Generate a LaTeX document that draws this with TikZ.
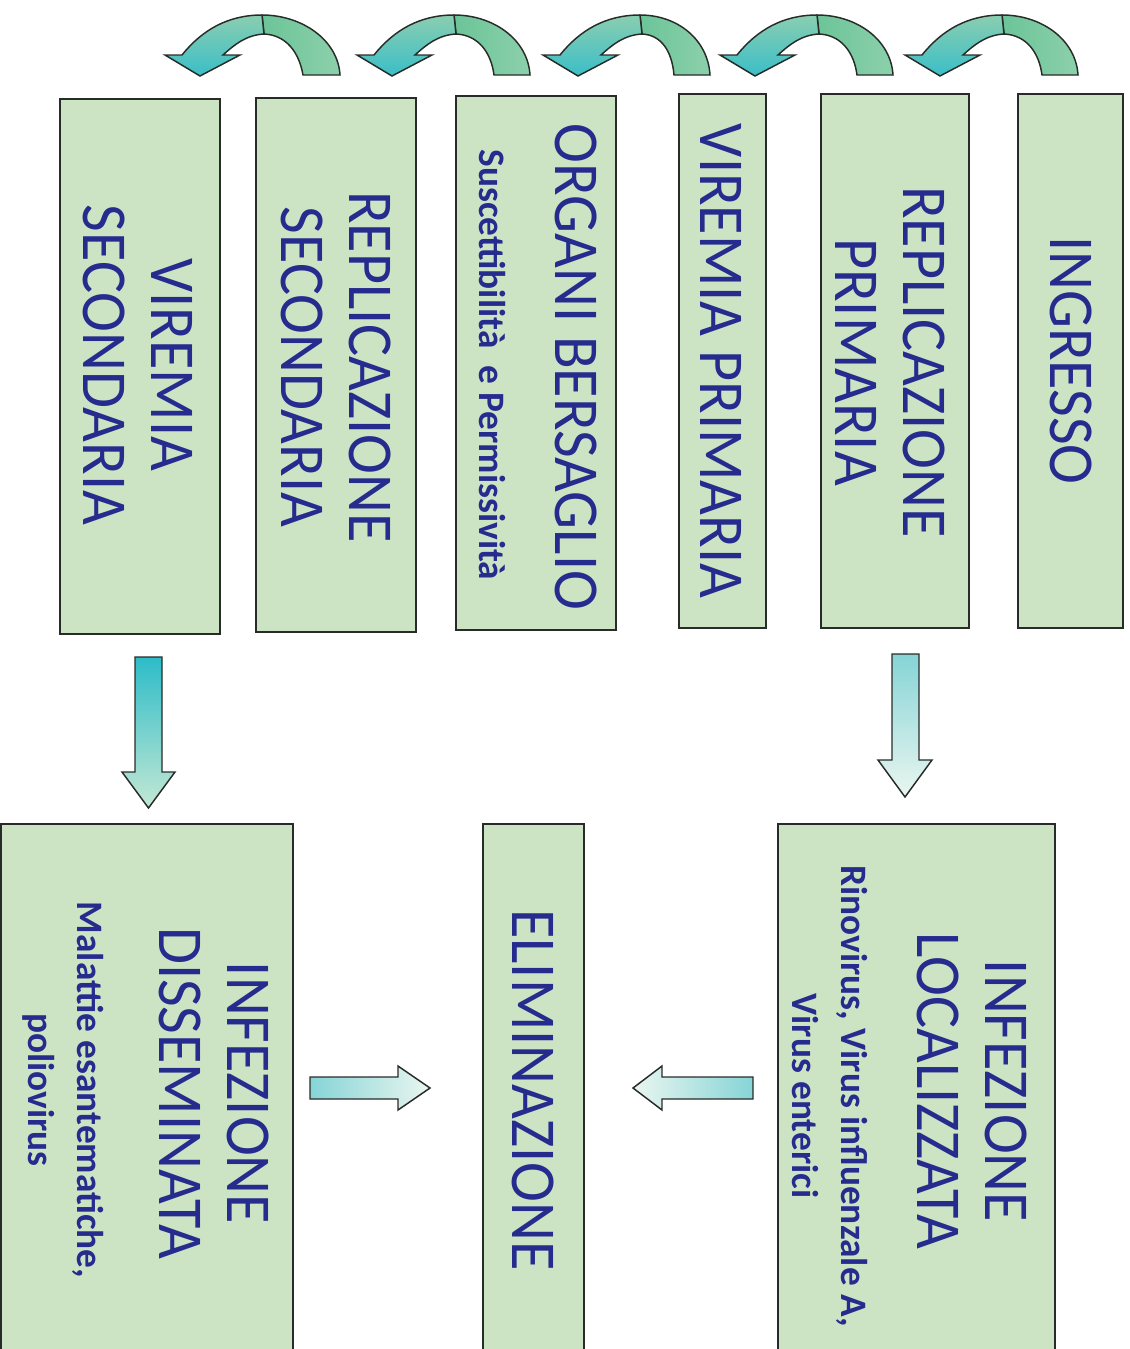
\documentclass[tikz,border=0pt]{standalone}
\usepackage{fontspec}
\newfontfamily\titlefont[FakeStretch=0.94]{Carlito}
\newfontfamily\notefont{Carlito}
\definecolor{boxfill}{RGB}{205,228,196}
\definecolor{boxline}{RGB}{40,44,40}
\definecolor{inkblue}{RGB}{38,44,142}
\definecolor{armteal}{RGB}{58,190,200}
\definecolor{armlight}{RGB}{138,206,176}
\definecolor{armgreen}{RGB}{108,196,152}
\definecolor{armgreenlight}{RGB}{140,208,172}
\definecolor{dropteal}{RGB}{45,188,200}
\definecolor{droplight}{RGB}{134,212,214}
\definecolor{droppale}{RGB}{196,232,212}
\definecolor{sidepale}{RGB}{234,246,240}
\tikzset{every picture/.style={line width=0.75pt}}
\tikzset{
stagebox/.style={draw=boxline, line width=1.5pt, fill=boxfill, inner sep=0pt},
titletext/.style={rotate=-90, inner sep=0.75pt, text=inkblue, align=center, font=\titlefont\fontsize{48}{51}\selectfont},
notetext/.style={rotate=-90, inner sep=0.75pt, text=inkblue, align=center, font=\notefont\bfseries\fontsize{28}{37}\selectfont},
blockarrow/.style={draw=boxline, line width=1.1pt}
}

\begin{document}
\begin{tikzpicture}[x=0.75pt,y=0.75pt,yscale=-1,xscale=1]
\useasboundingbox (0,0) rectangle (1130,1349);

%Shape: Curved Arrow (ingresso -> replicazione primaria)
\draw [blockarrow, shift={(940,0)}, left color=armgreen, right color=armgreenlight] (62,15) .. controls (102,15) and (136,40) .. (138,75) -- (102,75) .. controls (99,52) and (86,35) .. (64,34) -- cycle ;
\draw [blockarrow, shift={(940,0)}, top color=armlight, bottom color=armteal] (-18,55) .. controls (2,30) and (28,15) .. (62,15) -- (64,34) .. controls (46,35) and (34,45) .. (23,55) -- (40,55) -- (0,76) -- (-35,55) -- cycle ;
%Shape: Curved Arrow (replicazione primaria -> viremia primaria)
\draw [blockarrow, shift={(755,0)}, left color=armgreen, right color=armgreenlight] (62,15) .. controls (102,15) and (136,40) .. (138,75) -- (102,75) .. controls (99,52) and (86,35) .. (64,34) -- cycle ;
\draw [blockarrow, shift={(755,0)}, top color=armlight, bottom color=armteal] (-18,55) .. controls (2,30) and (28,15) .. (62,15) -- (64,34) .. controls (46,35) and (34,45) .. (23,55) -- (40,55) -- (0,76) -- (-35,55) -- cycle ;
%Shape: Curved Arrow (viremia primaria -> organi bersaglio)
\draw [blockarrow, shift={(578,0)}, left color=armgreen, right color=armgreenlight] (62,15) .. controls (100,15) and (130,40) .. (132,75) -- (96,75) .. controls (94,52) and (84,35) .. (64,34) -- cycle ;
\draw [blockarrow, shift={(578,0)}, top color=armlight, bottom color=armteal] (-18,55) .. controls (2,30) and (28,15) .. (62,15) -- (64,34) .. controls (46,35) and (34,45) .. (23,55) -- (40,55) -- (0,76) -- (-35,55) -- cycle ;
%Shape: Curved Arrow (organi bersaglio -> replicazione secondaria)
\draw [blockarrow, shift={(392,0)}, left color=armgreen, right color=armgreenlight] (62,15) .. controls (102,15) and (136,40) .. (138,75) -- (102,75) .. controls (99,52) and (86,35) .. (64,34) -- cycle ;
\draw [blockarrow, shift={(392,0)}, top color=armlight, bottom color=armteal] (-18,55) .. controls (2,30) and (28,15) .. (62,15) -- (64,34) .. controls (46,35) and (34,45) .. (23,55) -- (40,55) -- (0,76) -- (-35,55) -- cycle ;
%Shape: Curved Arrow (replicazione secondaria -> viremia secondaria)
\draw [blockarrow, shift={(200,0)}, left color=armgreen, right color=armgreenlight] (62,15) .. controls (102,15) and (138,40) .. (140,75) -- (103,75) .. controls (99,52) and (86,35) .. (64,34) -- cycle ;
\draw [blockarrow, shift={(200,0)}, top color=armlight, bottom color=armteal] (-18,55) .. controls (2,30) and (28,15) .. (62,15) -- (64,34) .. controls (46,35) and (34,45) .. (23,55) -- (40,55) -- (0,76) -- (-35,55) -- cycle ;

%Shape: Rectangle
\node (viremiasec) [stagebox, minimum width=120pt, minimum height=401.25pt] at (140,366.5) {};
%Shape: Rectangle
\node (replsec) [stagebox, minimum width=120pt, minimum height=400.5pt] at (336,365) {};
%Shape: Rectangle
\node (organi) [stagebox, minimum width=120pt, minimum height=400.5pt] at (536,363) {};
%Shape: Rectangle
\node (viremiapri) [stagebox, minimum width=65.25pt, minimum height=400.5pt] at (722.5,361) {};
%Shape: Rectangle
\node (replpri) [stagebox, minimum width=111pt, minimum height=400.5pt] at (895,361) {};
%Shape: Rectangle
\node (ingresso) [stagebox, minimum width=78.75pt, minimum height=400.5pt] at (1070.5,361) {};
%Shape: Rectangle
\node (disseminata) [stagebox, minimum width=219pt, minimum height=396pt] at (147,1088) {};
%Shape: Rectangle
\node (eliminazione) [stagebox, minimum width=75.75pt, minimum height=396pt] at (533.5,1088) {};
%Shape: Rectangle
\node (localizzata) [stagebox, minimum width=207.75pt, minimum height=396pt] at (916.5,1088) {};

%Shape: Down Arrow (replicazione secondaria side)
\draw [blockarrow, top color=dropteal, bottom color=droppale] (135,657) -- (162,657) -- (162,772) -- (175,772) -- (148.5,808) -- (122,772) -- (135,772) -- cycle ;
%Shape: Down Arrow (replicazione primaria side)
\draw [blockarrow, top color=droplight, bottom color=sidepale] (892,654) -- (919,654) -- (919,760) -- (932,760) -- (905,797) -- (878,760) -- (892,760) -- cycle ;
%Shape: Right Arrow
\draw [blockarrow, left color=droplight, right color=sidepale] (310,1077) -- (398,1077) -- (398,1066) -- (430,1088) -- (398,1110) -- (398,1099) -- (310,1099) -- cycle ;
%Shape: Left Arrow
\draw [blockarrow, right color=droplight, left color=sidepale] (753,1077) -- (662,1077) -- (662,1066) -- (633,1088) -- (662,1110) -- (662,1099) -- (753,1099) -- cycle ;

% Text Node
\node (viremiasectitle) [titletext] at (137.5,365) {VIREMIA\\SECONDARIA};
% Text Node
\node (replsectitle) [titletext] at (336,367) {REPLICAZIONE\\SECONDARIA};
% Text Node
\node (organititle) [titletext] at (576.5,367) {ORGANI BERSAGLIO};
% Text Node
\node (organinote) [notetext] at (492,365) {Suscettibilità\ \ e Permissività};
% Text Node
\node (viremiapritite) [titletext] at (721,361) {VIREMIA PRIMARIA};
% Text Node
\node (replprititle) [titletext] at (890,362) {REPLICAZIONE\\PRIMARIA};
% Text Node
\node (ingressotitle) [titletext] at (1071.5,360.5) {INGRESSO};
% Text Node
\node (localizzatatitle) [titletext] at (972.5,1091) {INFEZIONE\\LOCALIZZATA};
% Text Node
\node (localizzatanote) [notetext] at (830,1096) {Rinovirus, Virus influenzale A,\\Virus enterici};
% Text Node
\node (eliminazionetitle) [titletext] at (533.5,1090) {ELIMINAZIONE};
% Text Node
\node (disseminatatitle) [titletext] at (214,1093) {INFEZIONE\\DISSEMINATA};
% Text Node
\node (disseminatanote) [notetext] at (63,1090) {Malattie esantematiche,\\poliovirus};
\end{tikzpicture}
\end{document}
